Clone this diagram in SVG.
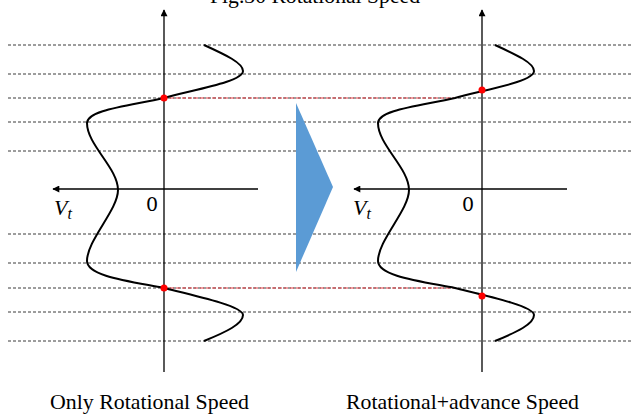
<svg xmlns="http://www.w3.org/2000/svg" width="633" height="414" viewBox="0 0 633 414">
<style>
.grid{stroke:#3a3a3a;stroke-width:1;stroke-dasharray:3 2;fill:none}
.red{stroke:#e8424a;stroke-width:1.2;stroke-dasharray:4 2;fill:none}
.axis{stroke:#000;stroke-width:1.3;fill:none}
.curve{stroke:#000;stroke-width:2;fill:none}
.dot{fill:#ff0000}
.lbl{font-family:"Liberation Serif",serif;font-size:22px;fill:#000}
.math{font-family:"DejaVu Serif","Liberation Serif",serif;font-size:19px;fill:#000}
.var{font-family:"Liberation Serif",serif;font-size:22px;font-style:italic;fill:#000}
</style>
<defs>
<marker id="ah" viewBox="0 0 10 10" refX="9" refY="5" markerWidth="8" markerHeight="7" markerUnits="userSpaceOnUse" orient="auto">
<path d="M0,0 L10,5 L0,10 Z" fill="#000"/>
</marker>
<path id="wave" d="M204,45 C226,55 243,63 243,71 C243,82 192,90 164,98 C128,106 87,110 87,123 C87,145 118,168 118,190 C118,210 87,240 87,261 C87,276 128,281 164,288 C192,295 243,306 243,315 C243,324 226,332 204,341"/>
</defs>
<text class="lbl" x="210" y="3" textLength="210" lengthAdjust="spacingAndGlyphs" style="font-size:21px">Fig.30 Rotational Speed</text>
<g id="grid">
<line class="grid" x1="8" y1="45" x2="633" y2="45"/>
<line class="grid" x1="8" y1="74" x2="633" y2="74"/>
<line class="grid" x1="8" y1="98" x2="633" y2="98"/>
<line class="grid" x1="8" y1="122" x2="633" y2="122"/>
<line class="grid" x1="8" y1="151" x2="633" y2="151"/>
<line class="grid" x1="8" y1="234" x2="633" y2="234"/>
<line class="grid" x1="8" y1="263" x2="633" y2="263"/>
<line class="grid" x1="8" y1="288" x2="633" y2="288"/>
<line class="grid" x1="8" y1="312" x2="633" y2="312"/>
<line class="grid" x1="8" y1="341" x2="633" y2="341"/>
</g>
<g id="connectors">
<line class="red" x1="164" y1="98" x2="453" y2="98"/>
<line class="red" x1="164" y1="288" x2="453" y2="288"/>
</g>
<g id="left-plot">
<line class="axis" x1="164" y1="372" x2="164" y2="10" marker-end="url(#ah)"/>
<line class="axis" x1="258" y1="189" x2="53" y2="189" marker-end="url(#ah)"/>
<use href="#wave" class="curve"/>
<circle class="dot" cx="164" cy="98" r="3.5"/>
<circle class="dot" cx="164" cy="288" r="3.5"/>
<text class="math" x="146" y="211">0</text>
<text class="var" x="54" y="215">V<tspan font-size="16" dy="4">t</tspan></text>
<text class="lbl" x="50" y="409" textLength="199" lengthAdjust="spacingAndGlyphs">Only Rotational Speed</text>
</g>
<g id="right-plot">
<line class="axis" x1="482" y1="372" x2="482" y2="10" marker-end="url(#ah)"/>
<line class="axis" x1="567" y1="189" x2="354" y2="189" marker-end="url(#ah)"/>
<use href="#wave" class="curve" transform="translate(291,0)"/>
<circle class="dot" cx="482" cy="90" r="3.5"/>
<circle class="dot" cx="482" cy="296" r="3.5"/>
<text class="math" x="462" y="211">0</text>
<text class="var" x="353" y="215">V<tspan font-size="16" dy="4">t</tspan></text>
<text class="lbl" x="346" y="409" textLength="233" lengthAdjust="spacingAndGlyphs">Rotational+advance Speed</text>
</g>
<g id="arrow">
<polygon points="296,103 333,187 296,272" fill="#5b9bd5"/>
</g>
</svg>
